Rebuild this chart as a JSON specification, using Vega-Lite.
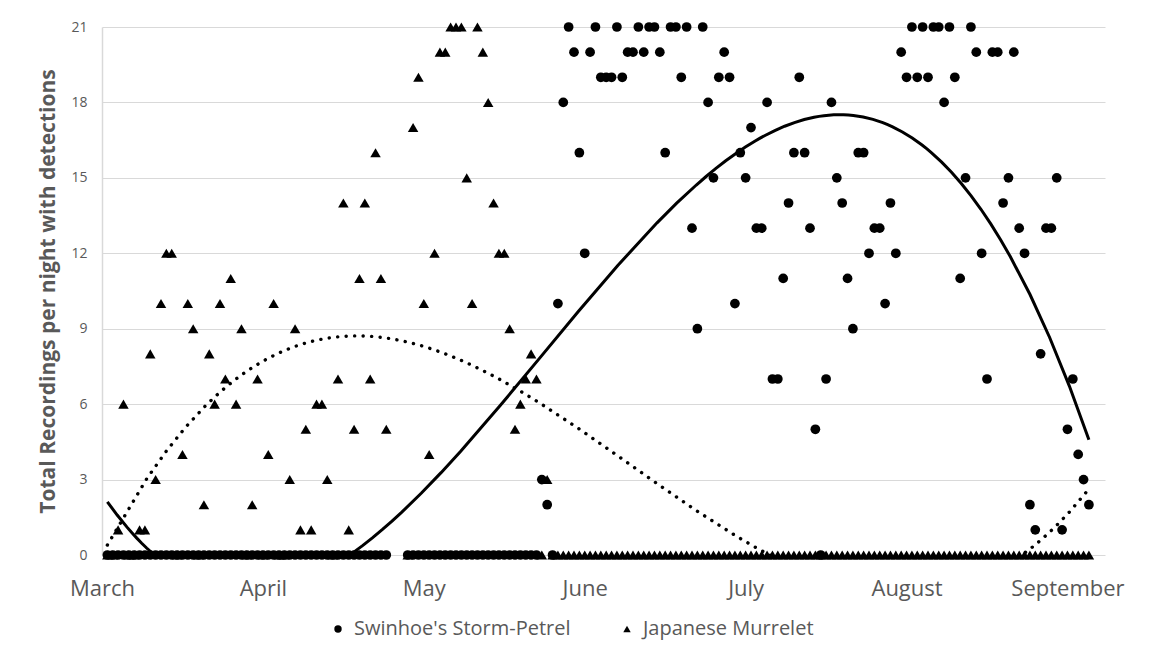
{
  "$schema": "https://vega.github.io/schema/vega-lite/v6.json",
  "width": 1003,
  "height": 528,
  "autosize": {"type": "none"},
  "padding": {"left": 102, "top": 27, "right": 63, "bottom": 113},
  "background": "white",
  "config": {
    "font": "Open Sans",
    "view": {"stroke": null},
    "axis": {"labelColor": "#595959", "titleColor": "#595959", "ticks": false, "tickSize": 0}
  },
  "data": {"values": [
    {"day":1,"petrel":0,"murrelet":0},{"day":2,"petrel":0,"murrelet":0},{"day":3,"petrel":0,"murrelet":1},{"day":4,"petrel":0,"murrelet":6},{"day":5,"petrel":0,"murrelet":0},
    {"day":6,"petrel":0,"murrelet":0},{"day":7,"petrel":0,"murrelet":1},{"day":8,"petrel":0,"murrelet":1},{"day":9,"petrel":0,"murrelet":8},{"day":10,"petrel":0,"murrelet":3},
    {"day":11,"petrel":0,"murrelet":10},{"day":12,"petrel":0,"murrelet":12},{"day":13,"petrel":0,"murrelet":12},{"day":14,"petrel":0,"murrelet":0},{"day":15,"petrel":0,"murrelet":4},
    {"day":16,"petrel":0,"murrelet":10},{"day":17,"petrel":0,"murrelet":9},{"day":18,"petrel":0,"murrelet":0},{"day":19,"petrel":0,"murrelet":2},{"day":20,"petrel":0,"murrelet":8},
    {"day":21,"petrel":0,"murrelet":6},{"day":22,"petrel":0,"murrelet":10},{"day":23,"petrel":0,"murrelet":7},{"day":24,"petrel":0,"murrelet":11},{"day":25,"petrel":0,"murrelet":6},
    {"day":26,"petrel":0,"murrelet":9},{"day":27,"petrel":0,"murrelet":0},{"day":28,"petrel":0,"murrelet":2},{"day":29,"petrel":0,"murrelet":7},{"day":30,"petrel":0,"murrelet":0},
    {"day":31,"petrel":0,"murrelet":4},{"day":32,"petrel":0,"murrelet":10},{"day":33,"petrel":0,"murrelet":0},{"day":34,"petrel":0,"murrelet":0},{"day":35,"petrel":0,"murrelet":3},
    {"day":36,"petrel":0,"murrelet":9},{"day":37,"petrel":0,"murrelet":1},{"day":38,"petrel":0,"murrelet":5},{"day":39,"petrel":0,"murrelet":1},{"day":40,"petrel":0,"murrelet":6},
    {"day":41,"petrel":0,"murrelet":6},{"day":42,"petrel":0,"murrelet":3},{"day":43,"petrel":0,"murrelet":0},{"day":44,"petrel":0,"murrelet":7},{"day":45,"petrel":0,"murrelet":14},
    {"day":46,"petrel":0,"murrelet":1},{"day":47,"petrel":0,"murrelet":5},{"day":48,"petrel":0,"murrelet":11},{"day":49,"petrel":0,"murrelet":14},{"day":50,"petrel":0,"murrelet":7},
    {"day":51,"petrel":0,"murrelet":16},{"day":52,"petrel":0,"murrelet":11},{"day":53,"petrel":0,"murrelet":5},
    {"day":57,"petrel":0,"murrelet":0},{"day":58,"petrel":0,"murrelet":17},{"day":59,"petrel":0,"murrelet":19},{"day":60,"petrel":0,"murrelet":10},
    {"day":61,"petrel":0,"murrelet":4},{"day":62,"petrel":0,"murrelet":12},{"day":63,"petrel":0,"murrelet":20},{"day":64,"petrel":0,"murrelet":20},{"day":65,"petrel":0,"murrelet":21},
    {"day":66,"petrel":0,"murrelet":21},{"day":67,"petrel":0,"murrelet":21},{"day":68,"petrel":0,"murrelet":15},{"day":69,"petrel":0,"murrelet":10},{"day":70,"petrel":0,"murrelet":21},
    {"day":71,"petrel":0,"murrelet":20},{"day":72,"petrel":0,"murrelet":18},{"day":73,"petrel":0,"murrelet":14},{"day":74,"petrel":0,"murrelet":12},{"day":75,"petrel":0,"murrelet":12},
    {"day":76,"petrel":0,"murrelet":9},{"day":77,"petrel":0,"murrelet":5},{"day":78,"petrel":0,"murrelet":6},{"day":79,"petrel":0,"murrelet":7},{"day":80,"petrel":0,"murrelet":8},
    {"day":81,"petrel":0,"murrelet":7},{"day":82,"petrel":3,"murrelet":0},{"day":83,"petrel":2,"murrelet":3},{"day":84,"petrel":0,"murrelet":0},{"day":85,"petrel":10,"murrelet":0},
    {"day":86,"petrel":18,"murrelet":0},{"day":87,"petrel":21,"murrelet":0},{"day":88,"petrel":20,"murrelet":0},{"day":89,"petrel":16,"murrelet":0},{"day":90,"petrel":12,"murrelet":0},
    {"day":91,"petrel":20,"murrelet":0},{"day":92,"petrel":21,"murrelet":0},{"day":93,"petrel":19,"murrelet":0},{"day":94,"petrel":19,"murrelet":0},{"day":95,"petrel":19,"murrelet":0},
    {"day":96,"petrel":21,"murrelet":0},{"day":97,"petrel":19,"murrelet":0},{"day":98,"petrel":20,"murrelet":0},{"day":99,"petrel":20,"murrelet":0},{"day":100,"petrel":21,"murrelet":0},
    {"day":101,"petrel":20,"murrelet":0},{"day":102,"petrel":21,"murrelet":0},{"day":103,"petrel":21,"murrelet":0},{"day":104,"petrel":20,"murrelet":0},{"day":105,"petrel":16,"murrelet":0},
    {"day":106,"petrel":21,"murrelet":0},{"day":107,"petrel":21,"murrelet":0},{"day":108,"petrel":19,"murrelet":0},{"day":109,"petrel":21,"murrelet":0},{"day":110,"petrel":13,"murrelet":0},
    {"day":111,"petrel":9,"murrelet":0},{"day":112,"petrel":21,"murrelet":0},{"day":113,"petrel":18,"murrelet":0},{"day":114,"petrel":15,"murrelet":0},{"day":115,"petrel":19,"murrelet":0},
    {"day":116,"petrel":20,"murrelet":0},{"day":117,"petrel":19,"murrelet":0},{"day":118,"petrel":10,"murrelet":0},{"day":119,"petrel":16,"murrelet":0},{"day":120,"petrel":15,"murrelet":0},
    {"day":121,"petrel":17,"murrelet":0},{"day":122,"petrel":13,"murrelet":0},{"day":123,"petrel":13,"murrelet":0},{"day":124,"petrel":18,"murrelet":0},{"day":125,"petrel":7,"murrelet":0},
    {"day":126,"petrel":7,"murrelet":0},{"day":127,"petrel":11,"murrelet":0},{"day":128,"petrel":14,"murrelet":0},{"day":129,"petrel":16,"murrelet":0},{"day":130,"petrel":19,"murrelet":0},
    {"day":131,"petrel":16,"murrelet":0},{"day":132,"petrel":13,"murrelet":0},{"day":133,"petrel":5,"murrelet":0},{"day":134,"petrel":0,"murrelet":0},{"day":135,"petrel":7,"murrelet":0},
    {"day":136,"petrel":18,"murrelet":0},{"day":137,"petrel":15,"murrelet":0},{"day":138,"petrel":14,"murrelet":0},{"day":139,"petrel":11,"murrelet":0},{"day":140,"petrel":9,"murrelet":0},
    {"day":141,"petrel":16,"murrelet":0},{"day":142,"petrel":16,"murrelet":0},{"day":143,"petrel":12,"murrelet":0},{"day":144,"petrel":13,"murrelet":0},{"day":145,"petrel":13,"murrelet":0},
    {"day":146,"petrel":10,"murrelet":0},{"day":147,"petrel":14,"murrelet":0},{"day":148,"petrel":12,"murrelet":0},{"day":149,"petrel":20,"murrelet":0},{"day":150,"petrel":19,"murrelet":0},
    {"day":151,"petrel":21,"murrelet":0},{"day":152,"petrel":19,"murrelet":0},{"day":153,"petrel":21,"murrelet":0},{"day":154,"petrel":19,"murrelet":0},{"day":155,"petrel":21,"murrelet":0},
    {"day":156,"petrel":21,"murrelet":0},{"day":157,"petrel":18,"murrelet":0},{"day":158,"petrel":21,"murrelet":0},{"day":159,"petrel":19,"murrelet":0},{"day":160,"petrel":11,"murrelet":0},
    {"day":161,"petrel":15,"murrelet":0},{"day":162,"petrel":21,"murrelet":0},{"day":163,"petrel":20,"murrelet":0},{"day":164,"petrel":12,"murrelet":0},{"day":165,"petrel":7,"murrelet":0},
    {"day":166,"petrel":20,"murrelet":0},{"day":167,"petrel":20,"murrelet":0},{"day":168,"petrel":14,"murrelet":0},{"day":169,"petrel":15,"murrelet":0},{"day":170,"petrel":20,"murrelet":0},
    {"day":171,"petrel":13,"murrelet":0},{"day":172,"petrel":12,"murrelet":0},{"day":173,"petrel":2,"murrelet":0},{"day":174,"petrel":1,"murrelet":0},{"day":175,"petrel":8,"murrelet":0},
    {"day":176,"petrel":13,"murrelet":0},{"day":177,"petrel":13,"murrelet":0},{"day":178,"petrel":15,"murrelet":0},{"day":179,"petrel":1,"murrelet":0},{"day":180,"petrel":5,"murrelet":0},
    {"day":181,"petrel":7,"murrelet":0},{"day":182,"petrel":4,"murrelet":0},{"day":183,"petrel":3,"murrelet":0},{"day":184,"petrel":2,"murrelet":0}
  ]},
  "transform": [{"fold": ["petrel", "murrelet"], "as": ["species", "count"]}],
  "encoding": {
    "x": {
      "field": "day", "type": "quantitative",
      "scale": {"domain": [0, 187], "nice": false, "zero": false},
      "axis": {
        "values": [0, 30, 60, 90, 120, 150, 180],
        "labelExpr": "['March','April','May','June','July','August','September'][round(datum.value/30)]",
        "grid": false, "domain": false, "title": null, "labelFlush": false, "labelOverlap": false,
        "labelFontSize": 22, "labelPadding": 23, "labelFont": "Open Sans"
      }
    },
    "y": {
      "field": "count", "type": "quantitative",
      "scale": {"domain": [0, 21], "nice": false},
      "axis": {
        "values": [0, 3, 6, 9, 12, 15, 18, 21],
        "grid": true, "gridColor": "#d9d9d9", "gridWidth": 1,
        "domain": true, "domainColor": "#d9d9d9", "domainWidth": 1.5,
        "labelFontSize": 14, "labelPadding": 15,
        "title": "Total Recordings per night with detections",
        "titleFontSize": 21, "titleFontWeight": "bold", "titlePadding": 12
      }
    }
  },
  "layer": [
    {
      "transform": [{"filter": "datum.species == 'murrelet'"}],
      "mark": {"type": "point", "filled": true, "color": "black", "opacity": 1, "size": 110},
      "encoding": {
        "shape": {
          "field": "species", "type": "nominal",
          "scale": {"domain": ["petrel", "murrelet"], "range": ["circle", "triangle-up"]},
          "legend": {
            "orient": "none", "legendX": 226, "legendY": 592, "direction": "horizontal",
            "title": null, "labelFontSize": 20, "labelColor": "#595959", "labelFont": "Open Sans",
            "labelLimit": 0,
            "symbolSize": 55, "symbolFillColor": "black", "symbolStrokeColor": "black",
            "columnPadding": 46, "labelOffset": 6, "padding": 0,
            "labelExpr": "datum.value == 'petrel' ? \"Swinhoe's Storm-Petrel\" : 'Japanese Murrelet'"
          }
        }
      }
    },
    {
      "transform": [{"filter": "datum.species == 'petrel'"}],
      "mark": {"type": "point", "filled": true, "color": "black", "opacity": 1, "size": 95},
      "encoding": {
        "shape": {"field": "species", "type": "nominal"}
      }
    },
    {
      "transform": [
        {"filter": "datum.species == 'petrel'"},
        {"regression": "count", "on": "day", "method": "poly", "order": 3}
      ],
      "mark": {"type": "line", "color": "black", "strokeWidth": 3, "clip": true},
      "encoding": {}
    },
    {
      "transform": [
        {"filter": "datum.species == 'murrelet'"},
        {"regression": "count", "on": "day", "method": "poly", "order": 3}
      ],
      "mark": {"type": "line", "color": "black", "strokeWidth": 3.4, "strokeCap": "round", "strokeDash": [0.1, 8.4], "clip": true},
      "encoding": {}
    }
  ]
}
